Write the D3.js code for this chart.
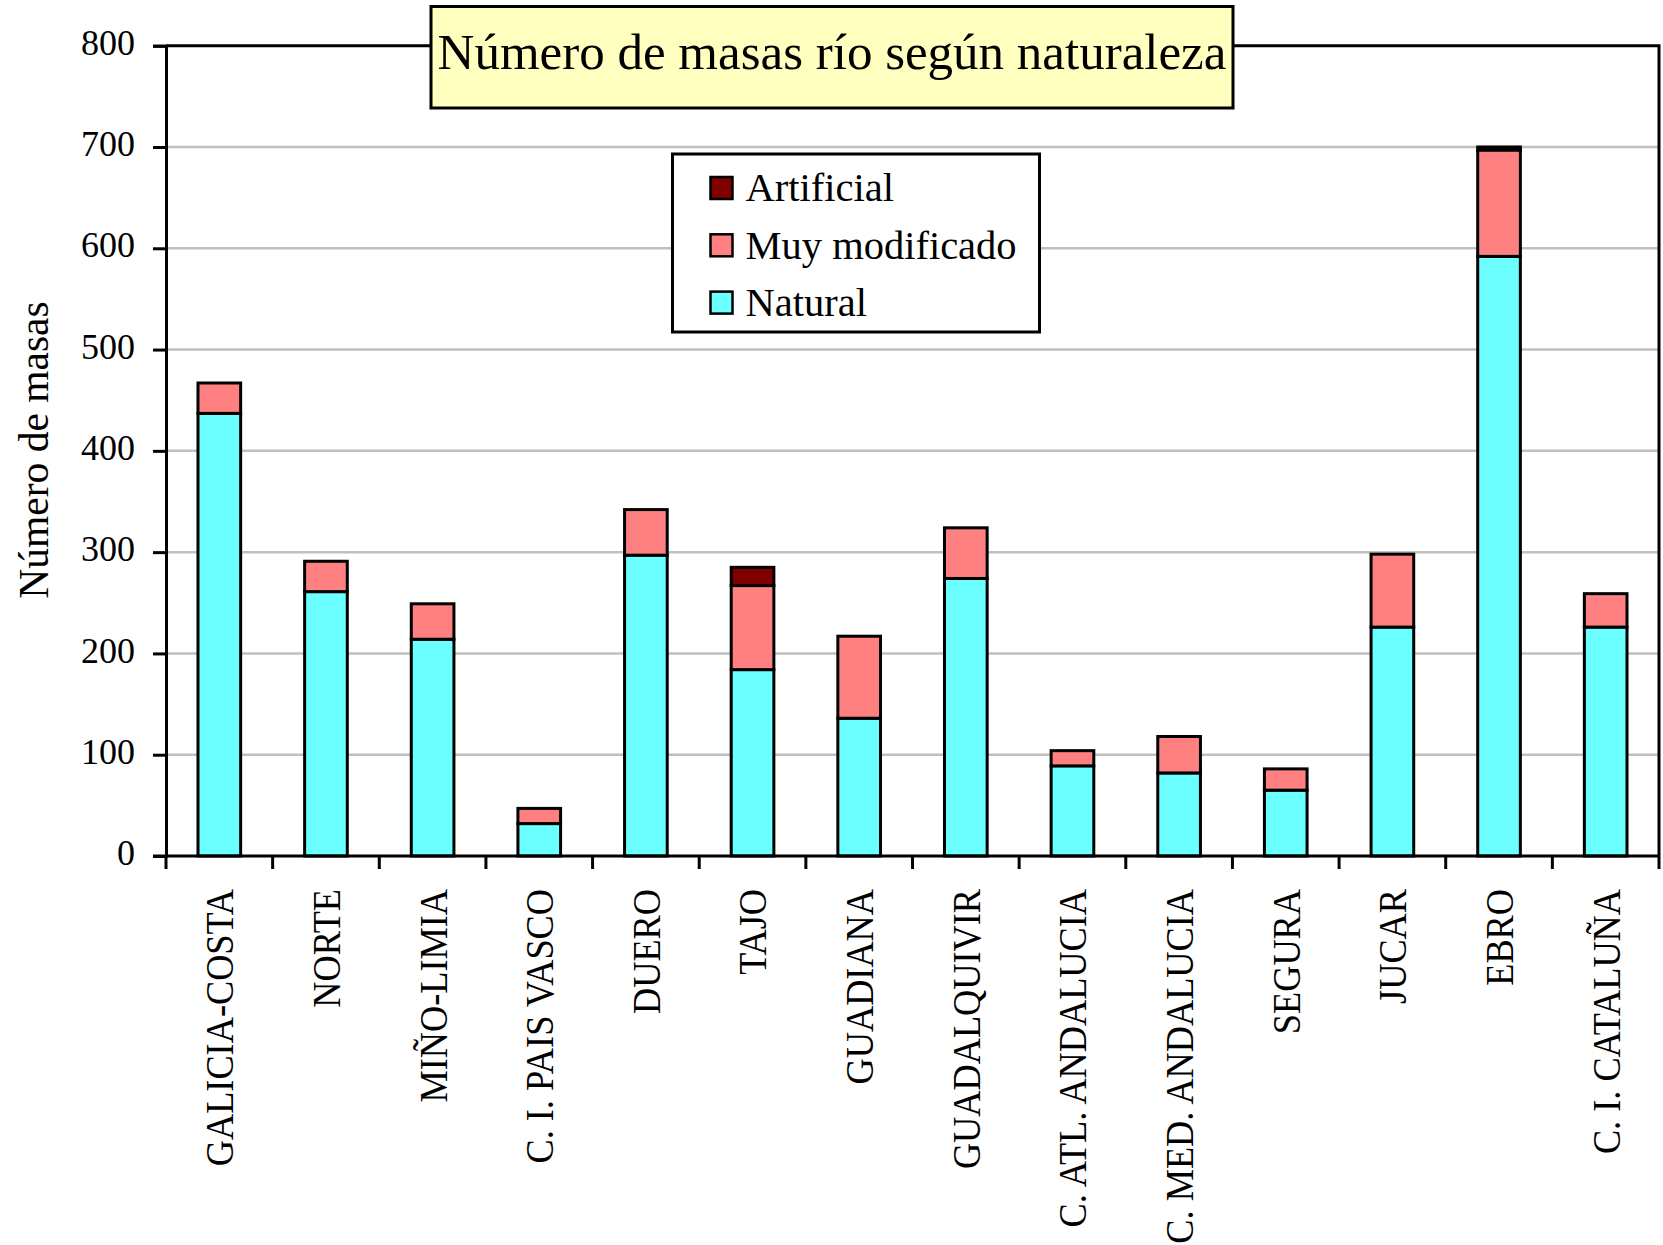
<!DOCTYPE html>
<html>
<head>
<meta charset="utf-8">
<script src="https://cdn.jsdelivr.net/npm/d3@7"></script>
<style>
  body { margin: 0; background: #fff; }
  svg text { font-family: 'Liberation Serif', 'Times New Roman', serif; fill: #000; }
</style>
</head>
<body>
<div id="chart"></div>
<script>
const categories = ['GALICIA-COSTA', 'NORTE', 'MIÑO-LIMIA', 'C. I. PAIS VASCO', 'DUERO', 'TAJO',
  'GUADIANA', 'GUADALQUIVIR', 'C. ATL. ANDALUCIA', 'C. MED. ANDALUCIA', 'SEGURA', 'JUCAR',
  'EBRO', 'C. I. CATALUÑA']
const natural = [437, 261, 214, 32, 297, 184, 136, 274, 89, 82, 65, 226, 592, 226]
const muyModificado = [30, 30, 35, 15, 45, 83, 81, 50, 15, 36, 21, 72, 105, 33]
const artificial = [0, 0, 0, 0, 0, 18, 0, 0, 0, 0, 0, 0, 3, 0]
const yTicks = [0, 100, 200, 300, 400, 500, 600, 700, 800]

const seriesKeys = ['Natural', 'Muy modificado', 'Artificial']
const colors = { 'Natural': '#6bffff', 'Muy modificado': '#ff8080', 'Artificial': '#800000' }

const title = 'Número de masas río según naturaleza'
const yTitle = 'Número de masas'

const width = 1663
const height = 1245
const plot = { left: 166, right: 1659, top: 45.7, bottom: 856 }

const rows = categories.map((c, i) => ({
  category: c,
  'Natural': natural[i],
  'Muy modificado': muyModificado[i],
  'Artificial': artificial[i]
}))

const svg = d3.select('#chart')
  .append('svg')
  .attr('width', width)
  .attr('height', height)

const x = d3.scaleBand()
  .domain(categories)
  .range([plot.left, plot.right])
  .paddingInner(0.6)
  .paddingOuter(0.3)

const y = d3.scaleLinear()
  .domain([0, 800])
  .range([plot.bottom, plot.top])

// gridlines
svg.append('g')
  .selectAll('line')
  .data(yTicks.filter(t => t > 0 && t < 800))
  .join('line')
    .attr('x1', plot.left)
    .attr('x2', plot.right)
    .attr('y1', d => y(d))
    .attr('y2', d => y(d))
    .attr('stroke', '#c0c0c0')
    .attr('stroke-width', 2.5)

// frame top + right
svg.append('path')
  .attr('d', `M${plot.left},${y(800)}H${plot.right}V${plot.bottom}`)
  .attr('fill', 'none')
  .attr('stroke', '#000')
  .attr('stroke-width', 3)

const stacked = d3.stack().keys(seriesKeys)(rows)

svg.append('g')
  .selectAll('g')
  .data(stacked)
  .join('g')
    .attr('fill', d => colors[d.key])
  .selectAll('rect')
  .data(d => d.filter(s => s[1] > s[0]))
  .join('rect')
    .attr('x', d => x(d.data.category))
    .attr('width', x.bandwidth())
    .attr('y', d => y(d[1]))
    .attr('height', d => y(d[0]) - y(d[1]))
    .attr('stroke', '#000')
    .attr('stroke-width', 3)

// y axis
const yAxis = svg.append('g')
  .attr('transform', `translate(${plot.left},0)`)
  .call(d3.axisLeft(y).tickValues(yTicks).tickSize(13).tickPadding(18))
yAxis.select('.domain').attr('stroke-width', 3)
yAxis.selectAll('.tick line').attr('stroke-width', 3)
yAxis.selectAll('.tick text')
  .style('font-family', "'Liberation Serif', serif")
  .attr('font-size', 36)
  .attr('dy', '0.24em')

// x axis: ticks at category boundaries
const boundaries = d3.range(categories.length + 1).map(i => plot.left + i * x.step())
const xAxis = svg.append('g')
xAxis.append('line')
  .attr('x1', plot.left - 13)
  .attr('x2', plot.right)
  .attr('y1', plot.bottom)
  .attr('y2', plot.bottom)
  .attr('stroke', '#000')
  .attr('stroke-width', 3)
xAxis.selectAll('.xtick')
  .data(boundaries)
  .join('line')
    .attr('class', 'xtick')
    .attr('x1', d => d)
    .attr('x2', d => d)
    .attr('y1', plot.bottom)
    .attr('y2', plot.bottom + 13)
    .attr('stroke', '#000')
    .attr('stroke-width', 3)
xAxis.selectAll('.xlabel')
  .data(categories)
  .join('text')
    .attr('class', 'xlabel')
    .attr('transform', d => `translate(${x(d) + x.bandwidth() / 2},889) rotate(-90) scale(0.885,1)`)
    .attr('text-anchor', 'end')
    .attr('dy', '0.34em')
    .attr('font-size', 41)
    .text(d => d)

// y title
svg.append('text')
  .attr('transform', `translate(33,450) rotate(-90)`)
  .attr('text-anchor', 'middle')
  .attr('dy', '0.35em')
  .attr('font-size', 41.5)
  .text(yTitle)

// title box
const titleBox = { x: 431, y: 6.5, w: 802, h: 101.5 }
svg.append('rect')
  .attr('x', titleBox.x)
  .attr('y', titleBox.y)
  .attr('width', titleBox.w)
  .attr('height', titleBox.h)
  .attr('fill', '#ffffc0')
  .attr('stroke', '#000')
  .attr('stroke-width', 3)
svg.append('text')
  .attr('x', titleBox.x + titleBox.w / 2)
  .attr('y', 69)
  .attr('text-anchor', 'middle')
  .attr('font-size', 51)
  .text(title)

// legend
const legendBox = { x: 672.5, y: 154, w: 367, h: 178 }
svg.append('rect')
  .attr('x', legendBox.x)
  .attr('y', legendBox.y)
  .attr('width', legendBox.w)
  .attr('height', legendBox.h)
  .attr('fill', '#fff')
  .attr('stroke', '#000')
  .attr('stroke-width', 3)

const legendItems = seriesKeys.slice().reverse()
const legend = svg.append('g')
  .selectAll('g')
  .data(legendItems)
  .join('g')
    .attr('transform', (d, i) => `translate(${legendBox.x + 38},${188 + i * 57.3})`)
legend.append('rect')
  .attr('x', 0)
  .attr('y', -11)
  .attr('width', 22)
  .attr('height', 22)
  .attr('fill', d => colors[d])
  .attr('stroke', '#000')
  .attr('stroke-width', 2.5)
legend.append('text')
  .attr('x', 35)
  .attr('dy', '0.33em')
  .attr('font-size', 40.5)
  .text(d => d)
</script>
</body>
</html>
